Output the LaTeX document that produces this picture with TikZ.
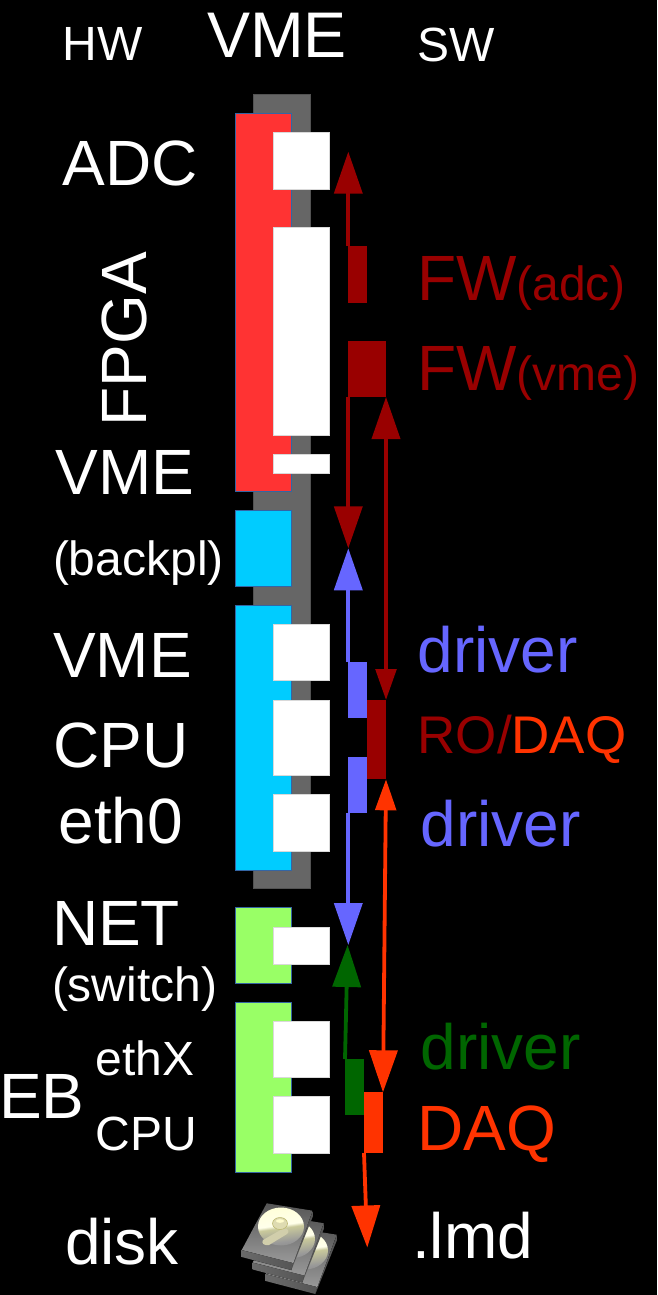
\documentclass[tikz,border=0pt]{standalone}
\usepackage{fontspec}
\setmainfont{Liberation Sans}
\usetikzlibrary{arrows.meta}
\definecolor{cred}{HTML}{FF3333}
\definecolor{ccyan}{HTML}{00CCFF}
\definecolor{cgreen}{HTML}{99FF66}
\definecolor{cgray}{HTML}{666666}
\definecolor{cdred}{HTML}{990000}
\definecolor{cviol}{HTML}{6666FF}
\definecolor{cdgreen}{HTML}{006600}
\definecolor{corange}{HTML}{FF3300}
\definecolor{cborder}{HTML}{3465A4}
\definecolor{dka}{HTML}{555555}
\definecolor{dkb}{HTML}{999999}
\definecolor{dkc}{HTML}{6A6A6A}
\pgfdeclareverticalshading{platter}{100bp}{
  color(0bp)=(dkc);
  color(30bp)=(dkb);
  color(48bp)=(gray!70!yellow!60!white);
  color(52bp)=(white!92!yellow);
  color(75bp)=(white!85!yellow);
  color(100bp)=(gray!80!yellow!70!white)}
\newcommand{\bx}[6]{\node[#2,minimum width={(#5)-(#3)},minimum height={(#6)-(#4)}] (#1) at ({((#3)+(#5))/2},{((#4)+(#6))/2}) {};}
\newcommand{\lbl}[5][]{\node[lab,font=\fontsize{#4}{#4}\selectfont,#1] (#2) at (#3) {#5};}
\newcommand{\onedisk}[2]{%
\begin{scope}[shift={(#1,#2)}]
\fill[left color=dkc,right color=dka] (241.7,1250) -- (293.3,1263) -- (291.3,1270) -- (241.7,1257) -- cycle;
\fill[dka] (293.3,1263) -- (312.7,1210.7) -- (313,1216) -- (291.3,1270) -- cycle;
\fill[top color=dka,bottom color=dkb] (241.7,1250) -- (266.7,1203.3) -- (312.7,1210.7) -- (293.3,1263) -- cycle;
\shade[shading=platter,shading angle=8] (281,1226.5) ellipse [x radius=23,y radius=19];
\end{scope}}
\tikzset{
  block/.style={rectangle,inner sep=0,outer sep=0,draw=cborder,line width=0.8pt},
  port/.style={rectangle,inner sep=0,outer sep=0,fill=white,draw=white!85!black,line width=0.4pt},
  sw/.style={rectangle,inner sep=0,outer sep=0,fill=#1},
  lab/.style={anchor=base west,inner sep=0,outer sep=0,text=white},
  wire/.style={line width=3.8pt,draw=#1},
  two/.style={{Triangle[length=42pt,width=28pt]}-{Triangle[length=31pt,width=20.6pt]}},
  owt/.style={{Triangle[length=31pt,width=20.6pt]}-{Triangle[length=42pt,width=28pt]}},
}
\begin{document}
\begin{tikzpicture}[x=1pt,y=-1pt]
\fill[black] (0,0) rectangle (657,1295);
\useasboundingbox (0,0) rectangle (657,1295);
% VME crate
\bx{crate}{block,fill=cgray,draw=cgray!80!black}{253.7}{94.7}{310.3}{888.7}
% HW blocks
\bx{fpga}{block,fill=cred}{235}{113.5}{291.5}{491.7}
\bx{backpl}{block,fill=ccyan}{235}{510.3}{291.5}{586.3}
\bx{cpu}{block,fill=ccyan}{235}{605.3}{291.5}{870}
\bx{net}{block,fill=cgreen}{235}{907.7}{291.5}{983.3}
\bx{eb}{block,fill=cgreen}{235}{1002.3}{291.5}{1172.3}
% ports
\bx{p1}{port}{272.7}{132.7}{329.5}{189.5}
\bx{p2}{port}{272.7}{227}{329.5}{435}
\bx{p3}{port}{272.7}{454}{329.5}{473}
\bx{p4}{port}{272.7}{624}{329.5}{680.5}
\bx{p5}{port}{272.7}{699.7}{329.5}{775.3}
\bx{p6}{port}{272.7}{794.3}{329.5}{851}
\bx{p7}{port}{272.7}{926.7}{329.5}{964}
\bx{p8}{port}{272.7}{1021}{329.5}{1077.3}
\bx{p9}{port}{272.7}{1096.3}{329.5}{1153}
% SW blocks
\bx{fwadc}{sw=cdred}{348.3}{246}{367.3}{302.7}
\bx{fwvme}{sw=cdred}{348.3}{341}{386}{397}
\bx{drv1}{sw=cviol}{348.3}{662}{367.3}{718.3}
\bx{ro}{sw=cdred}{367.3}{700}{386}{779.3}
\bx{drv2}{sw=cviol}{348.3}{756.7}{367.3}{812.7}
\bx{drv3}{sw=cdgreen}{345}{1059}{364}{1115.3}
\bx{daq}{sw=corange}{364}{1092.3}{383}{1153}
% free ends
\coordinate (t1) at (348.3,151.7);
\coordinate (t2) at (348.3,548.3);
\coordinate (t3) at (348.3,945);
\coordinate (t4) at (347.6,945);
\coordinate (t5) at (367.3,1247.5);
% connectors
\draw[wire=cdred,-{Triangle[length=42pt,width=28pt]}] (fwadc.north west) -- (t1);
\draw[wire=cdred,-{Triangle[length=42pt,width=28pt]}] (fwvme.south west) -- (t2);
\draw[wire=cdred,two] (fwvme.south east) -- (ro.north east);
\draw[wire=cviol,-{Triangle[length=42pt,width=28pt]}] (drv1.north west) -- (t2);
\draw[wire=cviol,-{Triangle[length=42pt,width=28pt]}] (drv2.south west) -- (t3);
\draw[wire=cdgreen,-{Triangle[length=42pt,width=28pt]}] (drv3.north west) -- (t4);
\draw[wire=corange,owt] (ro.south east) -- (daq.north east);
\draw[wire=corange,-{Triangle[length=42pt,width=28pt]}] (daq.south west) -- (t5);
% labels
\lbl{hw}{62.5,61}{48}{HW}
\lbl{vme}{207,58}{64.5}{VME}
\lbl{swl}{417,61.5}{48}{SW}
\lbl{adc}{62.5,185}{64}{ADC}
\lbl[rotate=90]{fpgal}{146,426.5}{64}{FPGA}
\lbl{vmeb}{55.5,494}{64}{VME}
\lbl{bp}{53,575}{48}{(backpl)}
\lbl{vmec}{53,677}{64}{VME}
\lbl{cpul}{53.5,767}{64}{CPU}
\lbl{eth}{58.5,843}{64}{eth0}
\lbl{netl}{52,945}{64}{NET}
\lbl{swi}{52,1001}{48}{(switch)}
\lbl{ethx}{95.5,1075}{48}{ethX}
\lbl{ebl}{-1,1118}{64}{EB}
\lbl{cpue}{95.5,1150}{48}{CPU}
\lbl{diskl}{65,1264}{64}{disk}
\lbl{lmd}{412,1258}{64}{.lmd}
\node[lab,text=cdred] (fwa) at (417,300) {\fontsize{64}{64}\selectfont FW\fontsize{48}{48}\selectfont (adc)};
\node[lab,text=cdred] (fwv) at (417,390) {\fontsize{64}{64}\selectfont FW\fontsize{48}{48}\selectfont (vme)};
\lbl[text=cviol]{d1}{417.5,672.5}{64}{driver}
\node[lab,text=cdred] (rod) at (417.5,753) {\fontsize{53}{53}\selectfont RO/\textcolor{corange}{DAQ}};
\lbl[text=cviol]{d2}{420.5,846}{64}{driver}
\lbl[text=cdgreen]{d3}{420.5,1069.5}{64}{driver}
\lbl[text=corange]{d4}{417.5,1150}{64}{DAQ}
% disks
\onedisk{24}{24}
\onedisk{11}{12.5}
\onedisk{0}{0}
% spindle and arm of the front disk
\fill[gray!70!yellow!60!white] (263,1240) -- (284,1228) .. controls (288,1228) and (290,1232) .. (287,1234) -- (269,1245) .. controls (264,1246) and (261,1243) .. (263,1240) -- cycle;
\fill[gray!60!yellow!50!white,draw=gray!60!yellow,line width=0.6pt] (280,1223.5) ellipse [x radius=7.5,y radius=6];
\fill[white!80!yellow] (280,1221) ellipse [x radius=4,y radius=1.8];
\end{tikzpicture}
\end{document}
